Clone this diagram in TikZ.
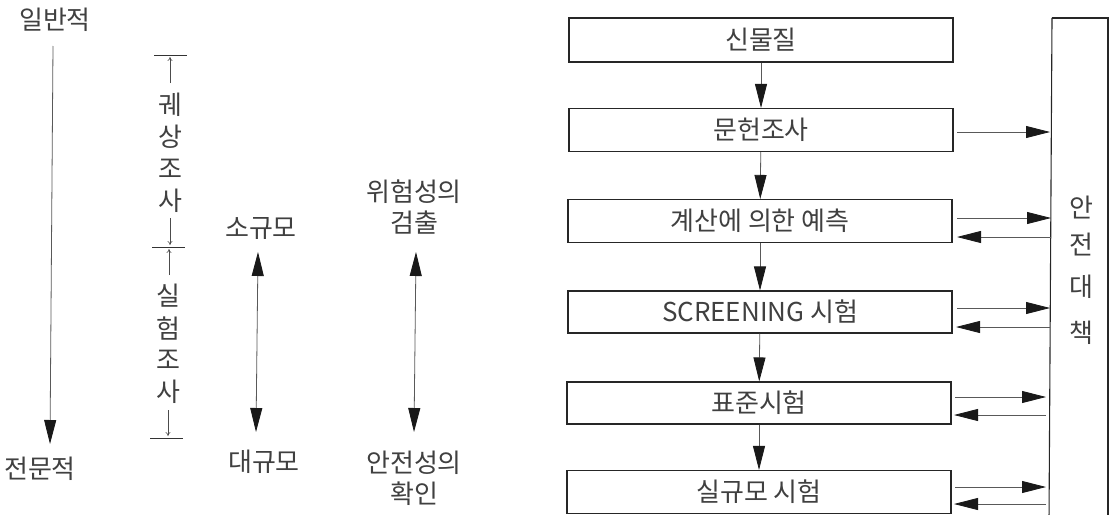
\documentclass[tikz,border=0pt]{standalone}
\usepackage{fontspec}
\setmainfont{Noto Sans CJK KR}
\usetikzlibrary{arrows.meta}
\tikzset{
  lbl/.style={inner sep=0pt, font=\fontsize{26}{31}\selectfont, text=black!75},
  stepbox/.style={draw=black!85, line width=1.1pt, minimum width=384pt, inner sep=0pt, font=\fontsize{26}{31}\selectfont, text=black!75},
  headtip/.tip={Triangle[length=24pt,width=12pt,color=black!90,fill=black!90]},
  bigarrow/.style={draw=black!65, line width=0.8pt, -headtip},
  bigboth/.style={draw=black!65, line width=0.8pt, headtip-headtip},
  smallarrow/.style={draw=black!70, line width=0.6pt, -{To[length=4pt,width=5pt]}},
  tick/.style={draw=black!80, line width=0.8pt}
}
\begin{document}
\begin{tikzpicture}[x=1pt,y=-1pt]
\useasboundingbox (0,0) rectangle (1110,514);
% left column
\node[lbl] (gen) at (55,20) {일반적};
\node[lbl] (spec) at (40,469) {전문적};
\draw[bigarrow] (53,46) -- (50,444);
% bracket
\coordinate (t1) at (154,55); \coordinate (t2) at (187,55);
\coordinate (m1) at (152,247); \coordinate (m2) at (185,247);
\coordinate (b1) at (150,438); \coordinate (b2) at (183,438);
\draw[tick] (t1) -- (t2);
\draw[tick] (m1) -- (m2);
\draw[tick] (b1) -- (b2);
\node[lbl] (k1) at (170,105) {궤};
\node[lbl] (k2) at (170,137) {상};
\node[lbl] (k3) at (170,169) {조};
\node[lbl] (k4) at (170,201) {사};
\node[lbl] (s1) at (168,296) {실};
\node[lbl] (s2) at (168,328) {험};
\node[lbl] (s3) at (168,360) {조};
\node[lbl] (s4) at (168,392) {사};
\coordinate (a1) at (170,83); \coordinate (a1e) at (170,57);
\coordinate (a2) at (170,218); \coordinate (a2e) at (170,245);
\coordinate (a3) at (169,275); \coordinate (a3e) at (169,249);
\coordinate (a4) at (168,410); \coordinate (a4e) at (168,436);
\draw[smallarrow] (a1) -- (a1e);
\draw[smallarrow] (a2) -- (a2e);
\draw[smallarrow] (a3) -- (a3e);
\draw[smallarrow] (a4) -- (a4e);
% scale
\node[lbl] (sm) at (261,229) {소규모};
\node[lbl] (lg) at (264,462) {대규모};
\draw[bigboth] (258,252) -- (256,432);
% risk
\node[lbl, align=center] (risk) at (414,207) {위험성의\\검출};
\node[lbl, align=center] (safe) at (414,478) {안전성의\\확인};
\draw[bigboth] (416,252) -- (414,432);
% flow boxes
\node[stepbox, minimum height=44pt] (b1n) at (761,40) {신물질};
\node[stepbox, minimum height=43pt] (b2n) at (761,130) {문헌조사};
\node[stepbox, minimum height=43pt] (b3n) at (760,221) {계산에 의한 예측};
\node[stepbox, minimum height=42pt] (b4n) at (760,312) {SCREENING 시험};
\node[stepbox, minimum height=42pt] (b5n) at (759,403) {표준시험};
\node[stepbox, minimum height=43pt] (b6n) at (759,492) {실규모 시험};
\draw[bigarrow] (b1n) -- (b2n);
\draw[bigarrow] (b2n) -- (b3n);
\draw[bigarrow] (b3n) -- (b4n);
\draw[bigarrow] (b4n) -- (b5n);
\draw[bigarrow] (b5n) -- (b6n);
% safety box
\draw[draw=black!85, line width=1.1pt] (1052,18) -- (1108,18) -- (1108,520);
\draw[draw=black!85, line width=1.1pt] (1052,18) -- (1049,520);
\node[lbl] (an) at (1081,207) {안};
\node[lbl] (jeon) at (1081,245) {전};
\node[lbl] (dae) at (1081,287) {대};
\node[lbl] (chaek) at (1081,333) {책};
% side arrows
\draw[bigarrow] (957,132) -- (1050,132);
\draw[bigarrow] (957,218) -- (1051,218);
\draw[bigarrow] (1051,237) -- (957,237);
\draw[bigarrow] (957,308) -- (1050,308);
\draw[bigarrow] (1050,327) -- (956,327);
\draw[bigarrow] (955,397) -- (1046,397);
\draw[bigarrow] (1046,415) -- (954,415);
\draw[bigarrow] (955,487) -- (1046,487);
\draw[bigarrow] (1046,504) -- (954,504);
\end{tikzpicture}
\end{document}
